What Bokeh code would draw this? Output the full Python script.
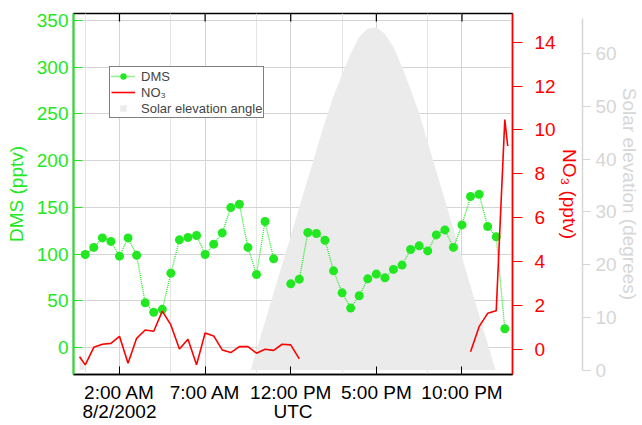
import numpy as np
from bokeh.plotting import figure
from bokeh.models import (Range1d, LinearAxis, FixedTicker, Legend, LegendItem, Grid)
from bokeh.embed import file_html
from bokeh.resources import INLINE

NAN = float("nan")

# ---- data (hours since 8/2/2002 00:00 UTC) ----
dms_hours = [0.0, 0.5, 1.0, 1.5, 2.0, 2.5, 3.0, 3.5, 4.0, 4.5, 5.0, 5.5, 6.0, 6.5, 7.0, 7.5,
             8.0, 8.5, 9.0, 9.5, 10.0, 10.5, 11.0, 11.5, 12.0, 12.5, 13.0, 13.5, 14.0, 14.5,
             15.0, 15.5, 16.0, 16.5, 17.0, 17.5, 18.0, 18.5, 19.0, 19.5, 20.0, 20.5, 21.0,
             21.5, 22.0, 22.5, 23.0, 23.5, 24.0, 24.5]
dms_pptv = [99.7, 107.2, 117.4, 113.6, 97.9, 117.4, 98.9, 48.0, 37.8, 41.0, 79.7, 115.3,
            117.8, 120.0, 99.7, 110.7, 122.7, 149.8, 153.4, 107.2, 78.3, 134.9, 95.0, NAN,
            68.3, 73.3, 123.2, 122.1, 114.9, 82.2, 58.7, 42.4, 55.5, 73.6, 78.7, 74.7, 83.7,
            88.3, 105.0, 108.9, 103.5, 120.6, 125.9, 107.2, 131.3, 161.6, 164.0, 129.6,
            118.5, 20.3]

no3_hours = [-0.33, 0.0, 0.5, 1.0, 1.5, 2.0, 2.5, 3.0, 3.5, 4.0, 4.5, 5.0, 5.5, 6.0, 6.5,
             7.0, 7.5, 8.0, 8.5, 9.0, 9.5, 10.0, 10.5, 11.0, 11.5, 12.0, 12.5, 13.0,
             22.5, 23.0, 23.5, 24.0, 24.5, 24.67]
no3_pptv = [-0.34, -0.71, 0.09, 0.23, 0.27, 0.59, -0.64, 0.50, 0.88, 0.82, 1.74, 1.11,
            0.01, 0.46, -0.71, 0.74, 0.61, -0.03, -0.15, 0.12, 0.12, -0.18, 0.0, -0.05,
            0.23, 0.20, -0.44, NAN, -0.11, 1.03, 1.64, 1.76, 10.47, 9.27]

solar_hours = [-0.33, 0.0, 9.67, 10.0, 10.5, 11.0, 11.5, 12.0, 12.5, 13.0, 13.5, 14.0, 14.5,
               15.0, 15.5, 16.0, 16.5, 17.0, 17.5, 18.0, 18.5, 19.0, 19.5, 20.0, 20.5, 21.0,
               21.5, 22.0, 22.5, 23.0, 23.5, 23.96, 24.67]
solar_deg = [3.2, 0.0, 0.0, 3.8, 9.2, 14.6, 20.0, 25.4, 30.9, 36.3, 41.7, 47.1, 52.0,
             56.0, 60.0, 63.2, 64.8, 65.0, 63.8, 61.3, 57.5, 53.2, 48.7, 43.2, 37.7, 32.3,
             26.8, 21.4, 15.9, 10.5, 5.0, 0.0, 0.0]

x_ticks = [2, 7, 12, 17, 22]
x_tick_labels = ["2:00 AM\n8/2/2002", "7:00 AM", "12:00 PM", "5:00 PM", "10:00 PM"]
dms_ticks = [0, 50, 100, 150, 200, 250, 300, 350]
no3_ticks = [0, 2, 4, 6, 8, 10, 12, 14]
solar_ticks = [0, 10, 20, 30, 40, 50, 60]

# ---- styles ----
FONT = "Liberation Sans"
FS = "19px"
GREEN = "#22e822"
RED = "#ff0000"
SUN_FILL = "#ebebeb"
SUN_AXIS = "#d6d6d6"
GRID = "#d4d4d4"

p = figure(width=642, height=425, output_backend="svg", toolbar_location=None,
           x_range=Range1d(-0.685, 24.95), y_range=Range1d(-28.6, 357.2),
           x_axis_location=None, y_axis_location=None,
           min_border_left=73, min_border_right=130, min_border_top=13, min_border_bottom=51)
p.extra_y_ranges = {"no3": Range1d(-1.15, 15.31), "sun": Range1d(-0.85, 67.64)}
p.outline_line_color = "black"
p.outline_line_width = 1.3
p.background_fill_color = "white"
p.border_fill_color = "white"


def style_axis(ax, color):
    ax.axis_line_color = color
    ax.major_tick_line_color = color
    ax.minor_tick_line_color = None
    ax.major_label_text_color = color
    ax.major_label_text_font = FONT
    ax.major_label_text_font_size = FS
    ax.axis_label_text_color = color
    ax.axis_label_text_font = FONT
    ax.axis_label_text_font_size = FS
    ax.axis_label_text_font_style = "normal"


# bottom axis
xaxis = LinearAxis(ticker=FixedTicker(ticks=x_ticks),
                   major_label_overrides=dict(zip(x_ticks, x_tick_labels)),
                   axis_label="UTC")
style_axis(xaxis, "black")
xaxis.axis_line_width = 1.3
xaxis.major_tick_in = 8
xaxis.major_tick_out = 0
xaxis.major_label_standoff = 7
xaxis.major_label_text_line_height = 0.95
xaxis.axis_label_standoff = -24
p.add_layout(xaxis, "below")

# left DMS axis
yaxis = LinearAxis(ticker=FixedTicker(ticks=dms_ticks), axis_label="DMS (pptv)")
style_axis(yaxis, GREEN)
yaxis.axis_line_width = 2
yaxis.major_tick_in = 9
yaxis.major_tick_out = 0
yaxis.major_label_standoff = 5
yaxis.axis_label_standoff = 7
p.add_layout(yaxis, "left")

# right NO3 axis
raxis = LinearAxis(y_range_name="no3", ticker=FixedTicker(ticks=no3_ticks),
                   axis_label="NO\u2083 (pptv)")
style_axis(raxis, RED)
raxis.axis_line_width = 1.5
raxis.major_tick_in = 0
raxis.major_tick_out = 10
raxis.major_label_standoff = 12
raxis.axis_label_standoff = 0
p.add_layout(raxis, "right")

# right solar axis
saxis = LinearAxis(y_range_name="sun", ticker=FixedTicker(ticks=solar_ticks),
                   axis_label="Solar elevation (degrees)", bounds=(0, 66.7))
style_axis(saxis, SUN_AXIS)
saxis.axis_line_width = 1.5
saxis.major_tick_in = 0
saxis.major_tick_out = 8
saxis.major_label_standoff = 5
saxis.axis_label_standoff = -1
p.add_layout(saxis, "right")

# grids
p.add_layout(Grid(dimension=0, ticker=xaxis.ticker, grid_line_color=GRID))
p.add_layout(Grid(dimension=1, ticker=yaxis.ticker, grid_line_color=GRID))

# glyphs
sun = p.varea(x=np.array(solar_hours), y1=0, y2=np.array(solar_deg),
              fill_color=SUN_FILL, y_range_name="sun")
dms_line = p.line(np.array(dms_hours), np.array(dms_pptv), line_color=GREEN,
                  line_dash="1 1", line_width=1.3)
dms_pts = p.scatter(np.array(dms_hours), np.array(dms_pptv), size=9,
                    fill_color=GREEN, line_color=None)
no3_line = p.line(np.array(no3_hours), np.array(no3_pptv), line_color=RED,
                  line_width=1.6, y_range_name="no3")
sun_key = p.scatter(x=np.array([NAN]), y=np.array([NAN]), marker="square", size=9,
                    fill_color=SUN_FILL, line_color=None)
# inward tick marks on the top border
p.scatter(x=np.array(x_ticks, dtype=float), y=np.full(len(x_ticks), p.y_range.end),
          marker="dash", angle=np.pi / 2, size=16, line_color="black", line_width=1.2)

legend = Legend(items=[
    LegendItem(label="DMS", renderers=[dms_line, dms_pts]),
    LegendItem(label="NO\u2083", renderers=[no3_line]),
    LegendItem(label="Solar elevation angle", renderers=[sun_key]),
], location=(36, 256))
legend.label_text_font = FONT
legend.label_text_font_size = "13px"
legend.label_height = 16
legend.glyph_height = 16
legend.glyph_width = 24
legend.label_standoff = 6
legend.spacing = 0
legend.padding = 1
legend.margin = 0
legend.border_line_color = "black"
legend.border_line_width = 1
legend.background_fill_color = "white"
legend.background_fill_alpha = 1.0
p.add_layout(legend)

open("out.html", "w").write(file_html(p, INLINE))
